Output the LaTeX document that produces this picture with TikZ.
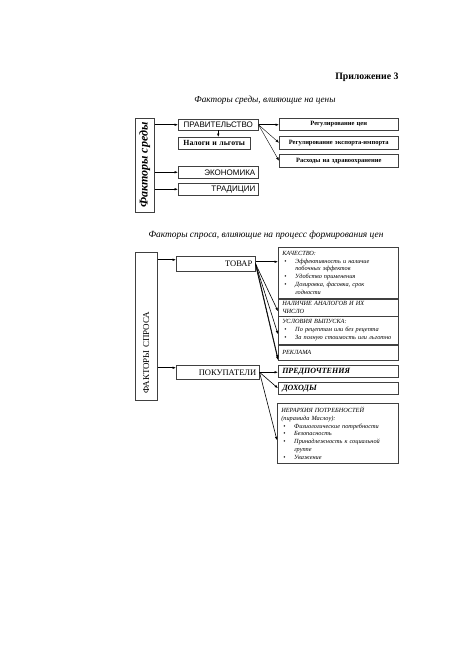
\documentclass[tikz,border=0pt]{standalone}
\usepackage{fontspec}
\usepackage{graphicx}
\setmainfont{Liberation Serif}
\newfontfamily\arialfont{Liberation Sans}
\usetikzlibrary{arrows.meta,positioning}

\newcommand{\itm}[1]{\makebox[13pt][l]{\hspace*{2pt}\textbullet}#1}
\newcommand{\cnt}[1]{\hspace*{13pt}#1}

\begin{document}
\begin{tikzpicture}[
    x=1pt, y=-1pt,
    box/.style={
        draw=black!75,
        line width=0.5pt,
        anchor=north west,
        inner xsep=3pt,
        inner ysep=0pt
    },
    capbox/.style={box, font=\arialfont\fontsize{8}{9}\selectfont},
    regbox/.style={box, text width=113pt, align=center,
        font=\bfseries\fontsize{6.5}{7.5}\selectfont},
    listbox/.style={box, inner xsep=4pt, text width=112pt, align=left,
        font=\itshape\fontsize{6.3}{7.7}\selectfont},
    vbox/.style={box, inner sep=0pt},
    arr/.style={-{Latex[length=3.5pt,width=2.6pt]}, line width=0.6pt},
    fan/.style={-{Latex[length=3.5pt,width=2.6pt]}, line width=0.4pt}
]
\fill[white] (0,0) rectangle (459,650);
\useasboundingbox (0,0) rectangle (459,650);

\node[anchor=east, font=\bfseries\fontsize{9.8}{11}\selectfont] (appendix) at (402,77) {Приложение 3};
\node[font=\itshape\fontsize{9.2}{11}\selectfont] (title-env) at (265,100) {Факторы среды, влияющие на цены};

\node[vbox, minimum width=19pt, minimum height=94pt] (sreda) at (135,118)
    {\rotatebox{90}{\bfseries\itshape\fontsize{12}{13}\selectfont Факторы среды}};
\node[capbox, text width=74pt, minimum height=11pt, align=center] (prav) at (178,119) {ПРАВИТЕЛЬСТВО};
\node[box, text width=66pt, minimum height=12pt, align=center,
    font=\bfseries\fontsize{7.8}{9}\selectfont] (nalogi) at (178,137) {Налоги и льготы};
\node[capbox, text width=74pt, minimum height=12pt, align=right] (ekon) at (178,166) {ЭКОНОМИКА\hspace*{2pt}};
\node[capbox, text width=74pt, minimum height=12pt, align=right] (trad) at (178,183) {ТРАДИЦИИ\hspace*{2pt}};

\node[regbox, minimum height=12.5pt] (cen) at (279,118) {Регулирование цен};
\node[regbox, minimum height=13pt] (eksp) at (279,136) {Регулирование экспорта-импорта};
\node[regbox, minimum height=13pt] (rash) at (279,154) {Расходы на здравоохранение};

\draw[arr] (sreda.east |- prav.west) -- (prav.west);
\draw[arr] (sreda.east |- ekon.west) -- (ekon.west);
\draw[arr] (sreda.east |- trad.west) -- (trad.west);
\draw[arr] (prav.south) -- (prav.south |- nalogi.north);
\draw[arr] (prav.east) -- (prav.east -| cen.west);
\draw[fan] (prav.east) -- (eksp.west);
\draw[fan] (prav.east) -- (rash.west);

\node[font=\itshape\fontsize{9.4}{11}\selectfont] (title-dem) at (266,235) {Факторы спроса, влияющие на процесс формирования цен};

\node[vbox, minimum width=22pt, minimum height=148pt] (spros) at (135,252) {};
\node[rotate=90, anchor=west, font=\fontsize{9}{10}\selectfont] (spros-text) at ([yshift=3pt]spros.south) {ФАКТОРЫ СПРОСА};
\node[box, text width=73pt, minimum height=15pt, align=right,
    font=\fontsize{8.5}{10}\selectfont] (tovar) at (176,256) {ТОВАР\hspace*{2pt}};
\node[box, text width=77pt, minimum height=14pt, align=right,
    font=\fontsize{8.5}{10}\selectfont] (pokup) at (176,365) {ПОКУПАТЕЛИ\hspace*{2pt}};

\node[listbox, minimum height=51pt] (kach) at (278,247) {КАЧЕСТВО:\\
    \itm{Эффективность и наличие}\\ \cnt{побочных эффектов}\\
    \itm{Удобство применения}\\
    \itm{Дозировка, фасовка, срок}\\ \cnt{годности}};
\node[listbox, minimum height=17pt] (nalich) at (kach.south west) {НАЛИЧИЕ АНАЛОГОВ И ИХ\\ЧИСЛО};
\node[listbox, minimum height=28pt] (uslov) at (nalich.south west) {УСЛОВИЯ ВЫПУСКА:\\
    \itm{По рецептам или без рецепта}\\
    \itm{За полную стоимость или льготно}};
\node[listbox, minimum height=15pt] (reklama) at (uslov.south west) {РЕКЛАМА};

\node[listbox, minimum height=12pt, font=\bfseries\itshape\fontsize{8}{9}\selectfont] (pred) at (278,365) {ПРЕДПОЧТЕНИЯ};
\node[listbox, minimum height=12pt, font=\bfseries\itshape\fontsize{8}{9}\selectfont] (dohody) at (278,382) {ДОХОДЫ};
\node[listbox, text width=113pt, minimum height=60pt] (ierarh) at (277,403) {ИЕРАРХИЯ ПОТРЕБНОСТЕЙ\\
    (пирамида Маслоу):\\
    \itm{Физиологические потребности}\\
    \itm{Безопасность}\\
    \itm{Принадлежность к социальной}\\ \cnt{группе}\\
    \itm{Уважение}};

\coordinate (tovar-in) at ([yshift=4pt]tovar.west);
\coordinate (pokup-in) at ([yshift=4.5pt]pokup.west);
\draw[arr] (spros.east |- tovar-in) -- (tovar-in);
\draw[arr] (spros.east |- pokup-in) -- (pokup-in);

\draw[arr] ([yshift=2pt]tovar.east) -- ([yshift=2pt]tovar.east -| kach.west);
\draw[arr] (tovar.east) -- ([yshift=-4pt]nalich.west);
\draw[arr] (tovar.east) -- ([yshift=-4pt]uslov.west);
\draw[arr] ([yshift=1pt]tovar.east) -- ([yshift=1.5pt]reklama.south west);
\draw[arr] ([yshift=-1pt]tovar.east) -- (reklama.south west);

\draw[arr] (pokup.east) -- (pokup.east -| pred.west);
\draw[arr] (pokup.east) -- (dohody.west);
\draw[arr] (pokup.east) -- ([yshift=-7pt]ierarh.west);
\end{tikzpicture}
\end{document}
